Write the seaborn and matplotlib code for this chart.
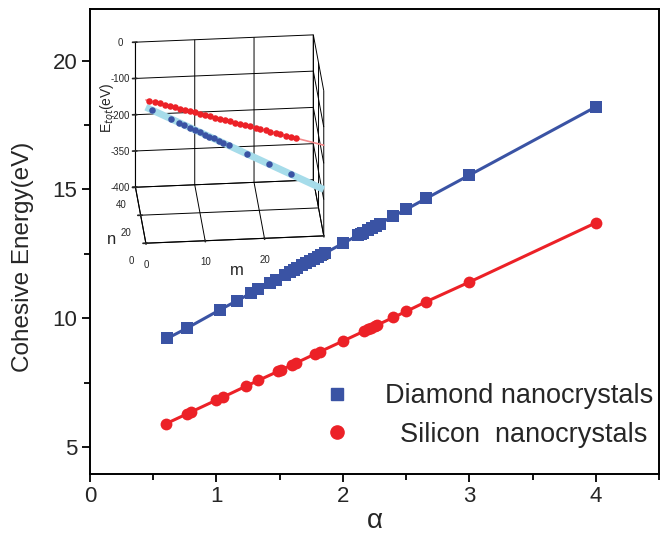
import numpy as np
import pandas as pd
import matplotlib
matplotlib.use("Agg")
import matplotlib.pyplot as plt
from matplotlib.lines import Line2D
from matplotlib.ticker import MultipleLocator
import seaborn as sns

# ---------------- main chart data ----------------
diamond_alpha = [0.61, 0.77, 1.03, 1.16, 1.27, 1.33, 1.42, 1.47, 1.54, 1.58, 1.61, 1.64,
                 1.68, 1.71, 1.74, 1.77, 1.80, 1.83, 1.86, 2.00, 2.12, 2.14, 2.16, 2.20,
                 2.23, 2.26, 2.29, 2.40, 2.50, 2.66, 3.00, 4.00]
diamond_energy = [9.21, 9.62, 10.33, 10.67, 10.96, 11.12, 11.36, 11.49, 11.68, 11.79, 11.87, 11.95,
                  12.05, 12.13, 12.21, 12.29, 12.37, 12.45, 12.53, 12.90, 13.22, 13.27, 13.32, 13.43,
                  13.51, 13.59, 13.67, 13.96, 14.22, 14.65, 15.55, 18.20]
silicon_alpha = [0.60, 0.77, 0.80, 1.00, 1.05, 1.23, 1.33, 1.49, 1.51, 1.60, 1.63, 1.78,
                 1.82, 2.00, 2.17, 2.20, 2.22, 2.25, 2.27, 2.40, 2.50, 2.66, 3.00, 4.00]
silicon_energy = [5.90, 6.29, 6.36, 6.82, 6.93, 7.35, 7.58, 7.94, 7.99, 8.19, 8.26, 8.61,
                  8.70, 9.11, 9.50, 9.57, 9.61, 9.68, 9.73, 10.03, 10.26, 10.64, 11.40, 13.70]
series_labels = ["Diamond nanocrystals", "  Silicon  nanocrystals"]
x_ticks = [0, 1, 2, 3, 4]
y_ticks = [5, 10, 15, 20]

# ---------------- inset (3D) data ----------------
red_m = [0.6, 1.5, 2.3, 3.2, 4.0, 4.9, 5.7, 6.6, 7.4, 8.3, 9.1, 10.0, 10.8, 11.7, 12.5,
         13.4, 14.2, 15.1, 15.9, 16.8, 17.6, 18.5, 19.3, 20.2, 21.0, 21.9, 22.7, 23.6, 24.4, 25.3]
red_E = [-7.9, -12.2, -16.1, -20.4, -24.3, -28.6, -32.5, -36.9, -40.7, -45.1, -48.9, -53.3,
         -57.1, -61.5, -65.4, -69.7, -73.6, -77.9, -81.8, -86.1, -90.0, -94.3, -98.2, -102.5,
         -106.4, -110.8, -114.6, -119.0, -122.8, -127.2]
blue_m = [1.0, 4.2, 5.6, 6.5, 7.4, 8.3, 9.1, 9.9, 10.7, 11.5, 12.3, 13.0, 14.0, 17.0, 20.8, 24.5]
blue_E = [-33, -60, -72, -79, -86, -93, -100, -107, -113, -119, -127, -132, -140, -165, -196, -227]
red_fit_m = [0.0, 30.0]
red_fit_E = [-5.0, -150.0]
blue_fit_m = [0.0, 30.0]
blue_fit_E = [-25.0, -272.0]
inset_n = 0.0
z_ticks = [0, -100, -200, -300, -400]
z_ticklabels = ["0", "-100", "-200", "-350", "-400"]
n_ticks = [0, 20, 40]
m_ticks = [0, 10, 20, 30]

BLUE = "#3a53a4"
RED = "#ec2127"

sns.set_theme(style="ticks")
plt.rcParams["font.family"] = ["Liberation Sans", "DejaVu Sans"]

fig = plt.figure(figsize=(6.6, 5.36), dpi=100)
ax = fig.add_axes([90 / 660, 1 - 474 / 536, (659 - 90) / 660, (474 - 9) / 536])

df = pd.DataFrame({
    "alpha": diamond_alpha + silicon_alpha,
    "energy": diamond_energy + silicon_energy,
    "series": [series_labels[0]] * len(diamond_alpha) + [series_labels[1]] * len(silicon_alpha),
})
sns.lineplot(data=df, x="alpha", y="energy", hue="series", style="series",
             palette={series_labels[0]: BLUE, series_labels[1]: RED},
             markers={series_labels[0]: "s", series_labels[1]: "o"},
             dashes=False, linewidth=2.2, markersize=8.5, markeredgewidth=0,
             legend=False, sort=True, ax=ax, zorder=5)

ax.set_xlim(0, 4.5)
ax.set_ylim(3.95, 22.0)
ax.set_xticks(x_ticks)
ax.set_yticks(y_ticks)
ax.xaxis.set_minor_locator(MultipleLocator(0.5))
ax.yaxis.set_minor_locator(MultipleLocator(2.5))
ax.tick_params(axis="both", which="major", direction="out", length=6, width=1.3,
               labelsize=16, color="black", pad=3)
ax.tick_params(axis="both", which="minor", direction="out", length=4, width=1.3, color="black")
for s in ax.spines.values():
    s.set_linewidth(1.4)
    s.set_color("black")
ax.set_xlabel("\u03b1", fontsize=20, labelpad=0)
ax.set_ylabel("Cohesive Energy(eV)", fontsize=17.5)
ax.yaxis.set_label_coords(-0.098, 0.468)
ax.patch.set_alpha(0)
ax.set_zorder(2)

handles = [Line2D([], [], linestyle="none", marker="s", color=BLUE, markersize=8),
           Line2D([], [], linestyle="none", marker="o", color=RED, markersize=9.5)]
ax.legend(handles, series_labels, loc="lower right", bbox_to_anchor=(1.018, 0.022),
          frameon=False, fontsize=19.5, handletextpad=0.75, labelspacing=0.45,
          markerfirst=True, borderaxespad=0.2)

# ---------------- inset ----------------
with plt.rc_context({"grid.color": "black", "grid.linewidth": 0.7, "axes3d.grid": True}):
    ax3 = fig.add_axes([0.1375, 0.489, 0.41, 0.49], projection="3d", computed_zorder=False)
ax3.set_zorder(1)
ax3.set_proj_type("ortho")
ax3.view_init(elev=28, azim=-95)
ax3.set_box_aspect((1, 0.67, 0.92))
ax3.set_facecolor("none")
for axis in (ax3.xaxis, ax3.yaxis, ax3.zaxis):
    axis.set_pane_color((1, 1, 1, 0))
    axis.pane.set_edgecolor("black")
    axis.line.set_color("black")
    axis.line.set_linewidth(0.8)

ax3.plot(blue_fit_m, [inset_n] * 2, blue_fit_E, color="#a6dcea", linewidth=5,
         solid_capstyle="butt", zorder=2)
ax3.plot(red_fit_m, [inset_n] * 2, red_fit_E, color="#f4888a", linewidth=1.2, zorder=2)
ax3.scatter(red_m, [inset_n] * len(red_m), red_E, color=RED, s=22, depthshade=False,
            linewidths=0, zorder=3)
ax3.scatter(blue_m, [inset_n] * len(blue_m), blue_E, color=BLUE, s=22, depthshade=False,
            linewidths=0, zorder=3)

ax3.set_xlim(0, 30)
ax3.set_ylim(0, 40)
ax3.set_zlim(-400, 0)
ax3.set_xticks(m_ticks)
ax3.set_yticks(n_ticks)
ax3.set_zticks(z_ticks)
ax3.set_zticklabels(z_ticklabels)
ax3.tick_params(labelsize=7, pad=0)
ax3.set_xlabel("m", fontsize=12, labelpad=-6)
ax3.set_ylabel("n", fontsize=12, labelpad=-5)
ax3.set_zlabel("E$_{tot}$(eV)", fontsize=10, labelpad=-6)

fig.savefig("out.png", dpi=100)
